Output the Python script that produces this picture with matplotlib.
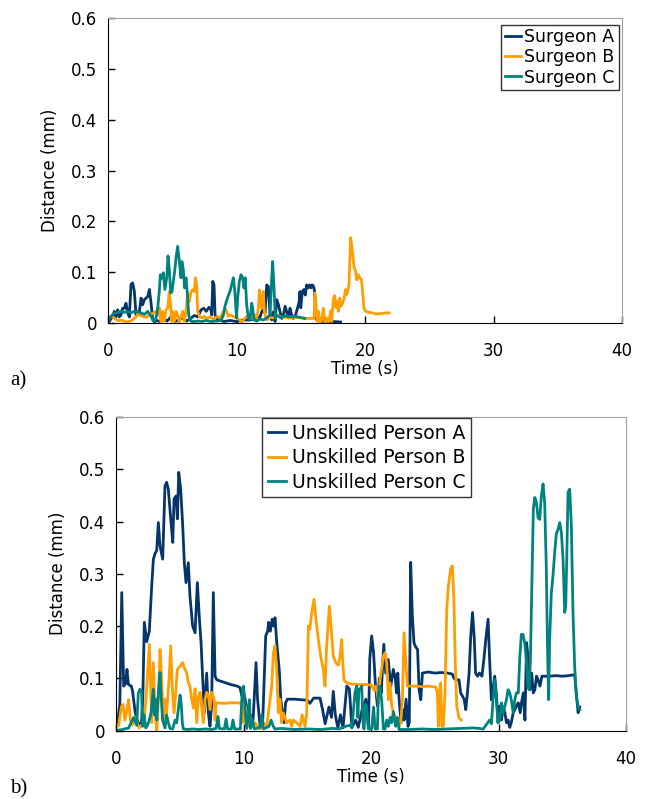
import matplotlib
matplotlib.use("Agg")
import matplotlib.pyplot as plt

plt.rcParams['font.family'] = ['DejaVu Sans']

# (time s, distance mm)
surgeon_a = [(0, 0.003), (0.1, 0.003), (0.36, 0.013), (0.49, 0.023), (0.62, 0.012), (0.75, 0.026),
             (0.88, 0.012), (1.01, 0.016), (1.14, 0.029), (1.27, 0.029), (1.4, 0.039), (1.53, 0.02),
             (1.66, 0.012), (1.79, 0.076), (1.92, 0.079), (2.05, 0.062), (2.18, 0.016), (2.31, 0.022),
             (2.44, 0.022), (2.57, 0.049), (2.7, 0.036), (2.83, 0.046), (2.96, 0.049), (3.09, 0.052),
             (3.22, 0.066), (3.35, 0.039), (3.48, 0.007), (3.61, 0.002), (3.8, 0.005), (4.0, 0.003),
             (4.3, 0.008), (4.6, 0.004), (4.9, 0.012), (5.2, 0.003), (5.5, 0.006), (5.8, 0.01),
             (6.1, 0.004), (6.4, 0.008), (6.72, 0.015), (6.98, 0.012), (7.24, 0.026), (7.45, 0.029),
             (7.65, 0.023), (7.85, 0.031), (8.0, 0.027), (8.07, 0.016), (8.15, 0.082), (8.25, 0.075),
             (8.33, 0.016), (8.5, 0.007), (8.72, 0.006), (9.0, 0.003), (9.5, 0.005), (10.0, 0.003),
             (10.5, 0.006), (11.05, 0.006), (11.5, 0.009), (11.83, 0.012), (11.96, 0.022), (12.09, 0.029),
             (12.22, 0.02), (12.35, 0.075), (12.48, 0.072), (12.61, 0.016), (12.74, 0.006), (12.87, 0.022),
             (13.0, 0.003), (13.13, 0.046), (13.26, 0.036), (13.39, 0.022), (13.52, 0.009), (13.65, 0.016),
             (13.78, 0.033), (13.91, 0.022), (14.04, 0.01), (14.16, 0.029), (14.29, 0.016), (14.42, 0.009),
             (14.6, 0.016), (14.86, 0.04), (14.94, 0.062), (15.0, 0.03), (15.12, 0.062), (15.25, 0.066),
             (15.35, 0.055), (15.46, 0.075), (15.58, 0.069), (15.69, 0.075), (15.8, 0.069), (15.9, 0.075),
             (16.0, 0.072), (16.08, 0.062), (16.16, 0.016), (16.24, 0.006), (16.5, 0.004), (17.0, 0.002),
             (17.5, 0.003), (18.1, 0.002)]

surgeon_b = [(0, 0.012), (0.36, 0.012), (0.75, 0.005), (1.14, 0.005), (1.4, 0.002), (1.79, 0.004),
             (2.18, 0.012), (2.31, 0.018), (2.44, 0.016), (2.7, 0.013), (2.96, 0.011), (3.22, 0.016),
             (3.48, 0.019), (3.74, 0.023), (3.87, 0.016), (3.99, 0.03), (4.12, 0.0), (4.25, 0.023),
             (4.38, 0.003), (4.51, 0.026), (4.64, 0.029), (4.77, 0.062), (4.85, 0.042), (4.95, 0.003),
             (5.03, 0.023), (5.16, 0.003), (5.29, 0.023), (5.42, 0.016), (5.55, 0.0), (5.68, 0.013),
             (5.81, 0.023), (5.94, 0.003), (6.07, 0.023), (6.2, 0.059), (6.33, 0.042), (6.46, 0.062),
             (6.62, 0.066), (6.72, 0.062), (6.8, 0.089), (6.9, 0.075), (6.98, 0.023), (7.11, 0.013),
             (7.3, 0.01), (7.5, 0.013), (7.7, 0.008), (7.9, 0.012), (8.2, 0.008), (8.5, 0.013),
             (8.72, 0.01), (8.97, 0.022), (9.1, 0.029), (9.23, 0.023), (9.36, 0.013), (9.5, 0.016),
             (9.75, 0.013), (10.0, 0.01), (10.27, 0.006), (10.4, 0.0), (10.53, 0.006), (10.79, 0.013),
             (11.05, 0.008), (11.31, 0.01), (11.44, 0.016), (11.57, 0.01), (11.7, 0.029), (11.78, 0.065),
             (11.88, 0.049), (11.96, 0.029), (12.09, 0.062), (12.17, 0.023), (12.25, 0.013), (12.35, 0.006),
             (12.6, 0.011), (12.87, 0.01), (13.13, 0.013), (13.39, 0.013), (13.65, 0.011), (13.9, 0.011),
             (14.16, 0.01), (14.47, 0.011), (14.8, 0.011), (15.2, 0.01), (15.5, 0.009), (15.8, 0.009),
             (16.03, 0.009), (16.11, 0.059), (16.2, 0.03), (16.29, 0.003), (16.37, 0.023), (16.5, 0.0),
             (16.63, 0.006), (16.76, 0.029), (16.88, 0.0), (17.0, 0.01), (17.15, 0.002), (17.28, 0.016),
             (17.33, 0.024), (17.41, 0.003), (17.54, 0.048), (17.64, 0.054), (17.75, 0.03), (17.85, 0.042),
             (17.93, 0.023), (18.03, 0.049), (18.12, 0.033), (18.25, 0.039), (18.38, 0.049), (18.49, 0.066),
             (18.57, 0.056), (18.65, 0.062), (18.75, 0.075), (18.88, 0.168), (19.01, 0.142), (19.15, 0.109),
             (19.27, 0.102), (19.36, 0.085), (19.48, 0.095), (19.6, 0.089), (19.72, 0.085), (19.8, 0.066),
             (19.92, 0.029), (20.05, 0.023), (20.3, 0.021), (20.57, 0.02), (20.83, 0.018), (21.09, 0.018),
             (21.35, 0.019), (21.6, 0.02), (21.87, 0.02)]

surgeon_c = [(0, 0.003), (0.1, 0.008), (0.23, 0.013), (0.49, 0.02), (0.75, 0.02), (1.01, 0.023),
             (1.27, 0.021), (1.53, 0.023), (1.79, 0.02), (2.05, 0.023), (2.31, 0.022), (2.57, 0.02),
             (2.83, 0.017), (3.09, 0.023), (3.35, 0.013), (3.48, 0.006), (3.61, 0.003), (3.74, 0.01),
             (3.87, 0.03), (3.99, 0.062), (4.07, 0.095), (4.17, 0.088), (4.3, 0.099), (4.43, 0.066),
             (4.57, 0.089), (4.67, 0.132), (4.77, 0.105), (4.88, 0.059), (4.98, 0.062), (5.08, 0.082),
             (5.19, 0.102), (5.29, 0.128), (5.42, 0.151), (5.55, 0.121), (5.68, 0.089), (5.75, 0.121),
             (5.86, 0.105), (5.96, 0.069), (6.07, 0.089), (6.17, 0.059), (6.28, 0.016), (6.38, 0.006),
             (6.5, 0.003), (6.72, 0.003), (6.98, 0.004), (7.3, 0.003), (7.6, 0.005), (8.0, 0.003),
             (8.4, 0.004), (8.8, 0.005), (8.98, 0.016), (9.11, 0.034), (9.23, 0.044), (9.36, 0.054),
             (9.49, 0.062), (9.62, 0.075), (9.75, 0.089), (9.87, 0.062), (10.0, 0.01), (10.09, 0.049),
             (10.22, 0.082), (10.35, 0.095), (10.48, 0.089), (10.58, 0.069), (10.68, 0.089), (10.79, 0.036),
             (10.92, 0.01), (11.05, 0.006), (11.18, 0.039), (11.26, 0.029), (11.36, 0.006), (11.57, 0.004),
             (11.83, 0.008), (12.09, 0.006), (12.35, 0.01), (12.61, 0.016), (12.74, 0.089), (12.81, 0.121),
             (12.92, 0.069), (13.02, 0.01), (13.13, 0.016), (13.39, 0.011), (13.65, 0.013), (13.9, 0.014),
             (14.16, 0.012), (14.47, 0.013), (14.8, 0.012), (15.1, 0.01), (15.3, 0.009)]

unskilled_a = [(0, 0.02), (0.1, 0.015), (0.3, 0.05), (0.45, 0.264), (0.6, 0.085), (0.75, 0.09),
               (0.86, 0.117), (0.97, 0.088), (1.2, 0.085), (1.3, 0.075), (1.5, 0.035), (1.75, 0.012),
               (2.0, 0.015), (2.1, 0.06), (2.22, 0.207), (2.41, 0.17), (2.61, 0.19), (2.8, 0.277),
               (2.93, 0.328), (3.08, 0.34), (3.19, 0.344), (3.32, 0.398), (3.45, 0.353), (3.66, 0.328),
               (3.84, 0.468), (3.97, 0.475), (4.1, 0.462), (4.29, 0.405), (4.45, 0.36), (4.55, 0.443),
               (4.71, 0.449), (4.81, 0.405), (4.92, 0.494), (5.07, 0.462), (5.23, 0.392), (5.36, 0.32),
               (5.49, 0.283), (5.67, 0.321), (5.8, 0.257), (6.01, 0.2), (6.2, 0.187), (6.38, 0.283),
               (6.54, 0.213), (6.67, 0.168), (6.8, 0.098), (6.93, 0.034), (7.11, 0.11), (7.24, 0.034),
               (7.37, 0.008), (7.5, 0.05), (7.63, 0.264), (7.77, 0.104), (7.9, 0.097), (8.5, 0.092),
               (9.0, 0.088), (9.5, 0.085), (9.73, 0.082), (9.86, 0.067), (10.0, 0.075), (10.25, 0.044),
               (10.51, 0.031), (10.75, 0.02), (10.98, 0.13), (11.1, 0.06), (11.3, 0.008), (11.5, 0.015),
               (11.65, 0.12), (11.74, 0.181), (11.89, 0.19), (11.97, 0.207), (12.1, 0.19), (12.25, 0.213),
               (12.35, 0.2), (12.47, 0.216), (12.6, 0.17), (12.8, 0.117), (12.92, 0.06), (13.05, 0.034),
               (13.18, 0.015), (13.3, 0.053), (13.44, 0.06), (14.0, 0.06), (14.5, 0.059), (15.0, 0.058),
               (15.2, 0.052), (15.5, 0.062), (16.0, 0.062), (16.2, 0.04), (16.4, 0.013), (16.7, 0.045),
               (16.9, 0.025), (17.04, 0.075), (17.2, 0.03), (17.4, 0.005), (17.6, 0.03), (17.8, 0.005),
               (18.1, 0.085), (18.3, 0.08), (18.5, 0.006), (18.8, 0.02), (19.0, 0.006), (19.3, 0.04),
               (19.6, 0.06), (19.8, 0.005), (19.9, 0.136), (20.05, 0.181), (20.2, 0.149), (20.35, 0.085),
               (20.5, 0.047), (20.65, 0.1), (20.8, 0.072), (21.0, 0.165), (21.15, 0.11), (21.35, 0.136),
               (21.55, 0.085), (21.75, 0.117), (21.9, 0.1), (22.0, 0.072), (22.1, 0.11), (22.2, 0.06),
               (22.35, 0.015), (22.5, 0.04), (22.6, 0.02), (22.75, 0.06), (22.9, 0.008), (23.0, 0.015),
               (23.11, 0.322), (23.24, 0.219), (23.37, 0.168), (23.5, 0.16), (23.65, 0.155), (23.77, 0.078),
               (23.9, 0.059), (24.03, 0.11), (24.5, 0.112), (25.0, 0.11), (25.5, 0.111), (26.0, 0.11),
               (26.38, 0.108), (26.5, 0.1), (26.65, 0.097), (26.9, 0.097), (27.03, 0.072), (27.3, 0.06),
               (27.43, 0.04), (27.56, 0.072), (27.69, 0.11), (27.82, 0.181), (27.96, 0.226), (28.1, 0.175),
               (28.2, 0.11), (28.35, 0.104), (28.5, 0.11), (28.7, 0.104), (28.85, 0.136), (29.0, 0.174),
               (29.18, 0.213), (29.3, 0.136), (29.44, 0.059), (29.57, 0.08), (29.7, 0.104), (29.83, 0.07),
               (29.96, 0.015), (30.1, 0.047), (30.23, 0.02), (30.36, 0.045), (30.5, 0.034), (30.62, 0.015),
               (30.75, 0.02), (30.88, 0.006), (31.0, 0.015), (31.15, 0.034), (31.28, 0.04), (31.4, 0.047),
               (31.55, 0.053), (31.7, 0.034), (31.8, 0.053), (31.95, 0.072), (32.07, 0.02), (32.2, 0.168),
               (32.33, 0.136), (32.46, 0.078), (32.6, 0.11), (32.72, 0.072), (32.85, 0.078), (32.98, 0.104),
               (33.1, 0.097), (33.25, 0.085), (33.4, 0.104), (34.0, 0.104), (34.5, 0.105), (35.0, 0.104),
               (35.5, 0.105), (35.97, 0.107), (36.1, 0.072), (36.24, 0.034), (36.37, 0.045)]

unskilled_b = [(0, 0.005), (0.21, 0.01), (0.42, 0.046), (0.55, 0.05), (0.7, 0.02), (0.86, 0.04),
               (0.99, 0.059), (1.12, 0.02), (1.3, 0.01), (1.48, 0.025), (1.65, 0.015), (1.8, 0.005),
               (2.0, 0.01), (2.2, 0.02), (2.35, 0.06), (2.5, 0.12), (2.61, 0.165), (2.72, 0.08),
               (2.8, 0.015), (2.93, 0.13), (3.06, 0.034), (3.2, 0.0), (3.32, 0.06), (3.45, 0.155),
               (3.58, 0.098), (3.71, 0.02), (3.84, 0.06), (3.97, 0.034), (4.16, 0.098), (4.29, 0.162),
               (4.42, 0.079), (4.55, 0.034), (4.68, 0.07), (4.81, 0.117), (5.02, 0.123), (5.23, 0.13),
               (5.4, 0.117), (5.54, 0.111), (5.67, 0.092), (5.8, 0.085), (5.93, 0.06), (6.07, 0.043),
               (6.2, 0.08), (6.33, 0.015), (6.46, 0.065), (6.59, 0.073), (6.72, 0.043), (6.85, 0.015),
               (6.98, 0.06), (7.11, 0.073), (7.24, 0.067), (7.37, 0.04), (7.5, 0.073), (7.69, 0.06),
               (7.77, 0.02), (7.84, 0.053), (8.5, 0.052), (9.0, 0.053), (9.5, 0.053), (9.86, 0.052),
               (9.99, 0.015), (10.12, 0.047), (10.25, 0.034), (10.38, 0.008), (10.51, 0.027), (10.77, 0.008),
               (10.9, 0.015), (11.1, 0.008), (11.3, 0.003), (11.56, 0.015), (11.82, 0.008), (12.08, 0.06),
               (12.21, 0.085), (12.34, 0.149), (12.47, 0.162), (12.6, 0.117), (12.73, 0.034), (12.86, 0.06),
               (12.99, 0.015), (13.12, 0.034), (13.38, 0.015), (13.64, 0.02), (13.77, 0.008), (13.9, 0.02),
               (14.16, 0.015), (14.43, 0.008), (14.6, 0.03), (14.82, 0.008), (14.95, 0.03), (15.09, 0.2),
               (15.2, 0.194), (15.35, 0.226), (15.53, 0.251), (15.68, 0.213), (15.87, 0.174), (16.05, 0.142),
               (16.26, 0.117), (16.39, 0.085), (16.52, 0.162), (16.73, 0.238), (16.86, 0.2), (17.04, 0.142),
               (17.25, 0.129), (17.43, 0.125), (17.57, 0.142), (17.7, 0.174), (17.78, 0.13), (17.88, 0.097),
               (18.09, 0.091), (18.5, 0.089), (19.0, 0.088), (19.5, 0.088), (20.05, 0.087), (20.2, 0.078),
               (20.35, 0.085), (20.48, 0.072), (20.6, 0.053), (20.7, 0.097), (20.84, 0.12), (20.97, 0.142),
               (21.1, 0.149), (21.23, 0.13), (21.36, 0.059), (21.49, 0.091), (21.62, 0.047), (21.75, 0.034),
               (21.9, 0.027), (22.07, 0.02), (22.2, 0.008), (22.33, 0.015), (22.46, 0.059), (22.59, 0.187),
               (22.72, 0.136), (22.85, 0.085), (23.5, 0.085), (24.0, 0.084), (24.5, 0.085), (25.07, 0.083),
               (25.2, 0.072), (25.28, 0.008), (25.37, 0.078), (25.46, 0.091), (25.55, 0.008), (25.67, 0.008),
               (25.8, 0.072), (25.94, 0.232), (26.07, 0.277), (26.25, 0.31), (26.38, 0.315), (26.5, 0.251),
               (26.6, 0.136), (26.72, 0.047), (26.9, 0.024), (27.08, 0.02)]

unskilled_c = [(0, 0.0), (0.5, 0.002), (1.0, 0.005), (1.12, 0.012), (1.38, 0.025), (1.62, 0.01),
               (1.75, 0.072), (1.88, 0.079), (2.0, 0.075), (2.09, 0.008), (2.2, 0.03), (2.33, 0.005),
               (2.47, 0.01), (2.61, 0.02), (2.75, 0.035), (2.93, 0.079), (3.0, 0.03), (3.1, 0.06),
               (3.2, 0.02), (3.32, 0.072), (3.45, 0.111), (3.55, 0.06), (3.65, 0.02), (3.84, 0.005),
               (3.97, 0.03), (4.1, 0.015), (4.23, 0.004), (4.45, 0.003), (4.63, 0.02), (4.76, 0.015),
               (4.89, 0.041), (5.02, 0.068), (5.12, 0.05), (5.2, 0.015), (5.28, 0.003), (5.6, 0.002),
               (6.0, 0.003), (6.5, 0.002), (7.0, 0.003), (7.5, 0.002), (7.85, 0.004), (8.0, 0.027),
               (8.1, 0.004), (8.5, 0.003), (8.63, 0.022), (8.75, 0.003), (9.05, 0.003), (9.17, 0.02),
               (9.3, 0.003), (9.75, 0.003), (9.9, 0.078), (10.0, 0.085), (10.12, 0.04), (10.25, 0.004),
               (10.38, 0.03), (10.46, 0.059), (10.55, 0.004), (10.7, 0.02), (10.85, 0.003), (11.3, 0.006),
               (11.43, 0.03), (11.56, 0.003), (12.0, 0.008), (12.16, 0.02), (12.3, 0.01), (12.45, 0.003),
               (13.0, 0.004), (13.5, 0.003), (14.0, 0.002), (15.0, 0.003), (16.0, 0.002), (17.0, 0.004),
               (17.5, 0.003), (18.0, 0.008), (18.35, 0.01), (18.5, 0.005), (18.74, 0.072), (18.88, 0.085),
               (18.97, 0.025), (19.05, 0.079), (19.14, 0.079), (19.27, 0.085), (19.36, 0.02), (19.45, 0.003),
               (19.55, 0.05), (19.66, 0.045), (19.79, 0.003), (20.05, 0.003), (20.2, 0.045), (20.32, 0.003),
               (20.5, 0.003), (20.58, 0.072), (20.7, 0.085), (20.83, 0.06), (20.97, 0.003), (21.1, 0.003),
               (21.23, 0.02), (21.36, 0.008), (21.5, 0.025), (21.62, 0.015), (21.75, 0.036), (21.93, 0.008),
               (22.07, 0.025), (22.2, 0.002), (23.0, 0.002), (24.0, 0.003), (25.0, 0.002), (26.0, 0.003),
               (27.0, 0.004), (28.0, 0.005), (28.5, 0.004), (28.8, 0.003), (29.1, 0.013), (29.3, 0.02),
               (29.44, 0.013), (29.57, 0.059), (29.7, 0.097), (29.83, 0.06), (29.96, 0.015), (30.1, 0.02),
               (30.23, 0.053), (30.36, 0.034), (30.5, 0.047), (30.62, 0.059), (30.75, 0.078), (30.88, 0.072),
               (31.0, 0.059), (31.15, 0.034), (31.28, 0.059), (31.4, 0.072), (31.55, 0.072), (31.66, 0.136),
               (31.79, 0.184), (31.92, 0.184), (32.05, 0.168), (32.18, 0.136), (32.31, 0.085), (32.4, 0.078),
               (32.5, 0.136), (32.63, 0.296), (32.73, 0.424), (32.84, 0.446), (32.97, 0.437), (33.1, 0.407),
               (33.23, 0.404), (33.36, 0.449), (33.49, 0.472), (33.62, 0.436), (33.75, 0.308), (33.84, 0.16),
               (33.93, 0.059), (34.01, 0.174), (34.14, 0.263), (34.27, 0.296), (34.4, 0.34), (34.53, 0.376),
               (34.67, 0.385), (34.8, 0.398), (34.93, 0.379), (35.06, 0.328), (35.19, 0.226), (35.27, 0.238),
               (35.35, 0.328), (35.45, 0.456), (35.58, 0.462), (35.71, 0.392), (35.84, 0.226), (35.97, 0.123),
               (36.1, 0.066), (36.24, 0.046), (36.37, 0.04)]

labels_top = ['Surgeon A', 'Surgeon B', 'Surgeon C']
labels_bottom = ['Unskilled Person A', 'Unskilled Person B', 'Unskilled Person C']
colors = ['#06356a', '#ff9e00', '#00837f']


def style_axes(ax):
    ax.set_xlim(0, 40)
    ax.set_ylim(0, 0.6)
    ax.set_xticks([0, 10, 20, 30, 40])
    ax.set_yticks([0, 0.1, 0.2, 0.3, 0.4, 0.5, 0.6])
    ax.set_yticklabels(['0', '0.1', '0.2', '0.3', '0.4', '0.5', '0.6'])
    ax.tick_params(direction='in', length=5, width=1, labelsize=12, pad=8)
    ax.tick_params(axis='x', pad=14)
    ax.spines['left'].set_color('black')
    ax.spines['bottom'].set_color('black')
    ax.spines['top'].set_color('#a0a0a0')
    ax.spines['right'].set_color('#a0a0a0')
    ax.set_xlabel('Time (s)', fontsize=12, labelpad=0)
    ax.set_ylabel('Distance (mm)', fontsize=12, labelpad=8)


fig = plt.figure(figsize=(6.46, 7.99), dpi=100)
ax1 = fig.add_axes([0.1672, 0.5957, 0.7957, 0.3817])
ax2 = fig.add_axes([0.1796, 0.0857, 0.7895, 0.3924])

for series, lab, c in zip([surgeon_a, surgeon_b, surgeon_c], labels_top, colors):
    t, v = zip(*series)
    ax1.plot(t, v, color=c, lw=2.0, label=lab)
for series, lab, c in zip([unskilled_a, unskilled_b, unskilled_c], labels_bottom, colors):
    t, v = zip(*series)
    ax2.plot(t, v, color=c, lw=2.0, label=lab)

style_axes(ax1)
style_axes(ax2)

leg1 = ax1.legend(loc='upper right', bbox_to_anchor=(1.0, 0.99), fontsize=12.5, frameon=True,
                  fancybox=False, edgecolor='black', handlelength=0.9, handletextpad=0.2,
                  labelspacing=0.12, borderpad=0.22, borderaxespad=0.2)
leg1.get_frame().set_linewidth(1.0)
leg2 = ax2.legend(loc='upper left', bbox_to_anchor=(0.286, 0.997), fontsize=13.5, frameon=True,
                  fancybox=False, edgecolor='black', handlelength=1.0, handletextpad=0.3,
                  labelspacing=0.3, borderpad=0.3, borderaxespad=0.0)
leg2.get_frame().set_linewidth(1.0)

fig.text(10 / 646, 1 - 381 / 799, 'a)', fontsize=15, family='Liberation Serif', va='center')
fig.text(10 / 646, 1 - 789 / 799, 'b)', fontsize=15, family='Liberation Serif', va='center')

fig.savefig('out.png', dpi=100)
